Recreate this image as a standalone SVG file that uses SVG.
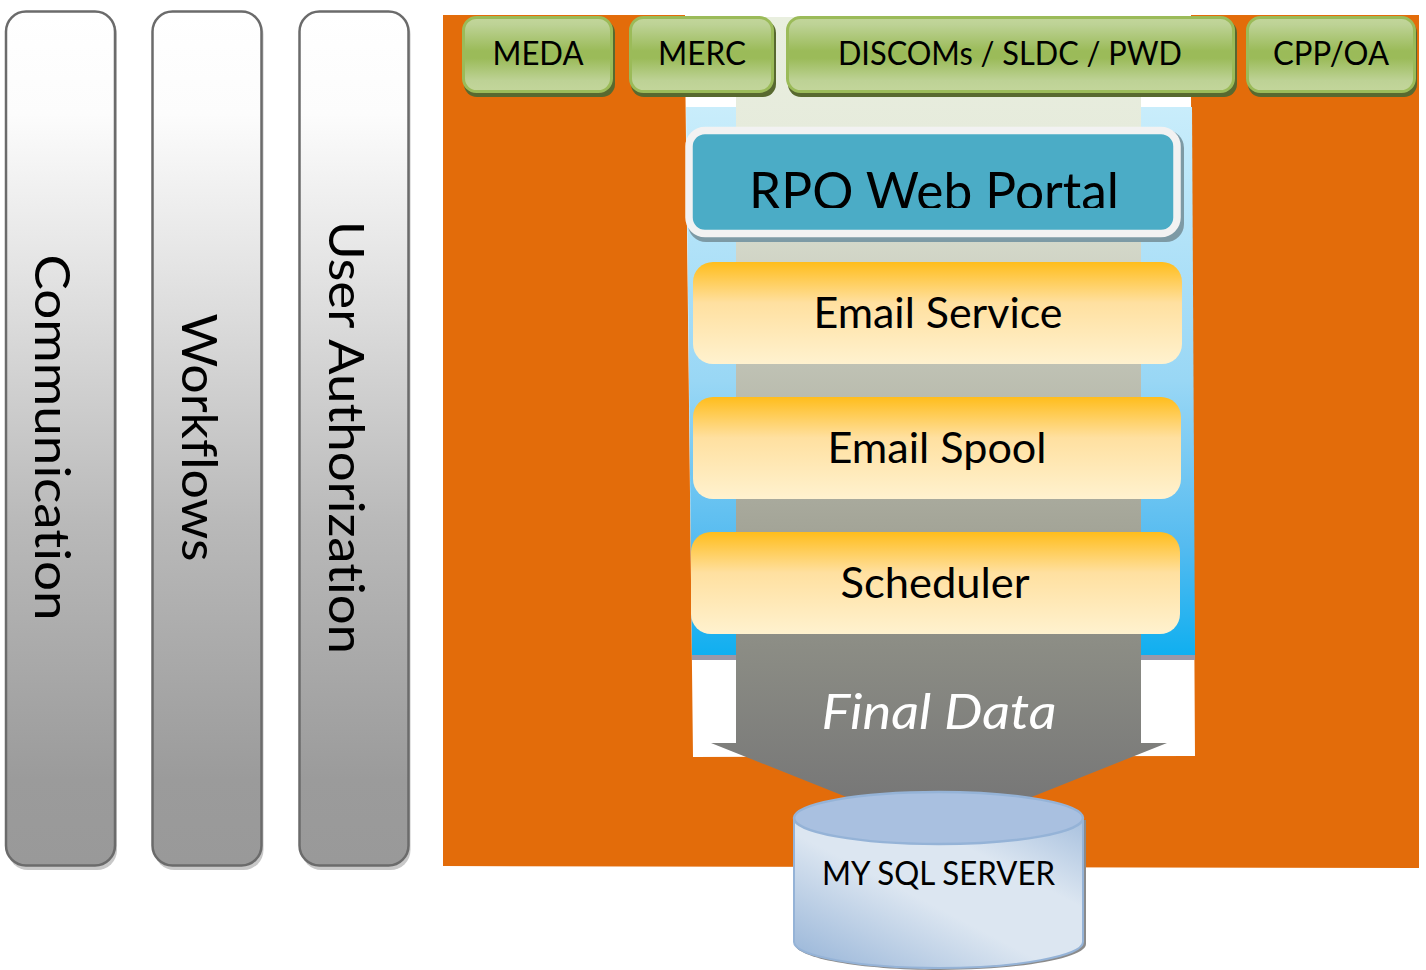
<svg xmlns="http://www.w3.org/2000/svg" width="1426" height="970" viewBox="0 0 1426 970">
<style>
text{font-family:Lato,"Noto Sans","Liberation Sans",sans-serif;fill:#000;text-anchor:middle;font-variant-ligatures:none}
.bar{fill:url(#barG);stroke:#6b6b6b;stroke-width:2.5}
.barS{fill:#c8c8c8}
.side{font-size:49px}
.green{fill:url(#greenG);stroke:#9bbb59;stroke-width:3}
.greenS{fill:#58692f}
.gt{font-size:33px}
.amber{fill:url(#amberG)}
.at{font-size:42px}
</style>
<defs>
<linearGradient id="barG" x1="0" y1="0" x2="0" y2="1"><stop offset="0" stop-color="#fff"/><stop offset=".12" stop-color="#fcfcfc"/><stop offset=".3" stop-color="#e4e4e4"/><stop offset=".6" stop-color="#b9b9b9"/><stop offset=".9" stop-color="#9b9b9b"/><stop offset="1" stop-color="#999"/></linearGradient>
<linearGradient id="greenG" x1="0" y1="0" x2="0" y2="1"><stop offset="0" stop-color="#c3d69b"/><stop offset=".1" stop-color="#bdd295"/><stop offset=".45" stop-color="#9bbb59"/><stop offset=".55" stop-color="#9bbb59"/><stop offset=".85" stop-color="#bdd295"/><stop offset="1" stop-color="#c3d69b"/></linearGradient>
<linearGradient id="amberG" x1="0" y1="0" x2="0" y2="1"><stop offset="0" stop-color="#ffbd1c"/><stop offset=".4" stop-color="#ffe0a0"/><stop offset="1" stop-color="#fff2cf"/></linearGradient>
<linearGradient id="panelG" x1="0" y1="0" x2="0" y2="1"><stop offset="0" stop-color="#c9edfb"/><stop offset=".5" stop-color="#99d7f5"/><stop offset=".8" stop-color="#55bbf0"/><stop offset="1" stop-color="#10aff0"/></linearGradient>
<linearGradient id="arrowG" gradientUnits="userSpaceOnUse" x1="0" y1="17" x2="0" y2="800"><stop offset="0" stop-color="#e9efdf"/><stop offset=".15" stop-color="#e6ebdc"/><stop offset=".65" stop-color="#a4a598"/><stop offset=".8" stop-color="#8c8d85"/><stop offset="1" stop-color="#777"/></linearGradient>
<linearGradient id="cylG" x1="0" y1="1" x2="1" y2="0"><stop offset="0" stop-color="#95b3d7"/><stop offset=".45" stop-color="#dce6f1"/><stop offset=".7" stop-color="#dce6f1"/><stop offset="1" stop-color="#a7c0de"/></linearGradient>
<clipPath id="rpoClip"><rect x="693" y="134" width="481" height="74"/></clipPath>
</defs>
<rect width="1426" height="970" fill="#fff"/>
<polygon id="backdrop" points="443,15 1419,15 1419,868 443,866" fill="#e36c0a"/>
<g id="panel">
<polygon points="685,14 1191,14 1191,97 1195,756 693,757 685.500,97" fill="#fff"/>
<polygon points="686,107 1192,107 1195,655 692,655" fill="url(#panelG)"/>
<rect x="692" y="655" width="503" height="5" fill="#9b98a8"/>
</g>
<g id="connectors">
<polygon id="final-data-arrow" points="736,17 1141,17 1141,743 1167,743 939,834 711,743 736,743" fill="url(#arrowG)"/>
</g>
<g id="communication">
<rect class="barS" x="8" y="14" width="109" height="856" rx="20"/>
<rect class="bar" x="6" y="11.500" width="109" height="854" rx="20"/>
<text class="side" transform="translate(35,437.500) rotate(90)" textLength="366" lengthAdjust="spacingAndGlyphs">Communication</text>
</g>
<g id="workflows">
<rect class="barS" x="154.500" y="14" width="109" height="856" rx="20"/>
<rect class="bar" x="152.500" y="11.500" width="109" height="854" rx="20"/>
<text class="side" transform="translate(182,437.500) rotate(90)" textLength="248" lengthAdjust="spacingAndGlyphs">Workflows</text>
</g>
<g id="user-authorization">
<rect class="barS" x="301.500" y="14" width="109" height="856" rx="20"/>
<rect class="bar" x="299.500" y="11.500" width="109" height="854" rx="20"/>
<text class="side" transform="translate(329,437.500) rotate(90)" textLength="433" lengthAdjust="spacingAndGlyphs">User Authorization</text>
</g>
<g id="meda">
<rect class="greenS" x="464" y="20" width="151" height="77" rx="13"/>
<rect class="green" x="463.500" y="17.500" width="148" height="74" rx="13"/>
<text class="gt" x="538" y="65" textLength="91" lengthAdjust="spacingAndGlyphs">MEDA</text>
</g>
<g id="merc">
<rect class="greenS" x="631" y="20" width="145" height="77" rx="13"/>
<rect class="green" x="630.500" y="17.500" width="142" height="74" rx="13"/>
<text class="gt" x="702" y="65" textLength="88" lengthAdjust="spacingAndGlyphs">MERC</text>
</g>
<g id="discoms">
<rect class="greenS" x="788" y="20" width="449" height="77" rx="13"/>
<rect class="green" x="787.500" y="17.500" width="446" height="74" rx="13"/>
<text class="gt" x="1010" y="65" textLength="344" lengthAdjust="spacingAndGlyphs">DISCOMs / SLDC / PWD</text>
</g>
<g id="cpp-oa">
<rect class="greenS" x="1248" y="20" width="169" height="77" rx="13"/>
<rect class="green" x="1247.500" y="17.500" width="167" height="74" rx="13"/>
<text class="gt" x="1331" y="65" textLength="116" lengthAdjust="spacingAndGlyphs">CPP/OA</text>
</g>
<g id="rpo-web-portal">
<rect x="688" y="130" width="496" height="112" rx="18" fill="#7d9aa5"/>
<rect x="689" y="130.500" width="488" height="103" rx="16" fill="#4bacc6" stroke="#f2f2f2" stroke-width="7.500"/>
<text x="934" y="210" clip-path="url(#rpoClip)" textLength="370" lengthAdjust="spacingAndGlyphs" style="font-size:52px">RPO Web Portal</text>
</g>
<g id="email-service">
<rect class="amber" x="693" y="262" width="489" height="102" rx="20"/>
<text class="at" x="938" y="328" textLength="249" lengthAdjust="spacingAndGlyphs">Email Service</text>
</g>
<g id="email-spool">
<rect class="amber" x="693" y="397" width="488" height="102" rx="20"/>
<text class="at" x="937" y="463" textLength="219" lengthAdjust="spacingAndGlyphs">Email Spool</text>
</g>
<g id="scheduler">
<rect class="amber" x="691" y="532" width="489" height="102" rx="20"/>
<text class="at" x="935" y="598" textLength="189" lengthAdjust="spacingAndGlyphs">Scheduler</text>
</g>
<text id="final-data" x="939" y="729" style="fill:#fff;font-size:49px;font-style:italic" textLength="235" lengthAdjust="spacingAndGlyphs">Final Data</text>
<g id="my-sql-server">
<path d="M795,820V944C795,958 860,970 940,970C1020,970 1086,958 1086,944V820Z" fill="#8b8b8b"/>
<path d="M794,818V942C794,956 859,968 938.500,968C1018,968 1083,956 1083,942V818Z" fill="url(#cylG)" stroke="#95b3d7" stroke-width="2"/>
<ellipse cx="938.500" cy="818" rx="144.500" ry="26" fill="#a9c0e0" stroke="#95b3d7" stroke-width="2.500"/>
<text x="938.500" y="885" textLength="233" lengthAdjust="spacingAndGlyphs" style="font-size:33px">MY SQL SERVER</text>
</g>
</svg>
